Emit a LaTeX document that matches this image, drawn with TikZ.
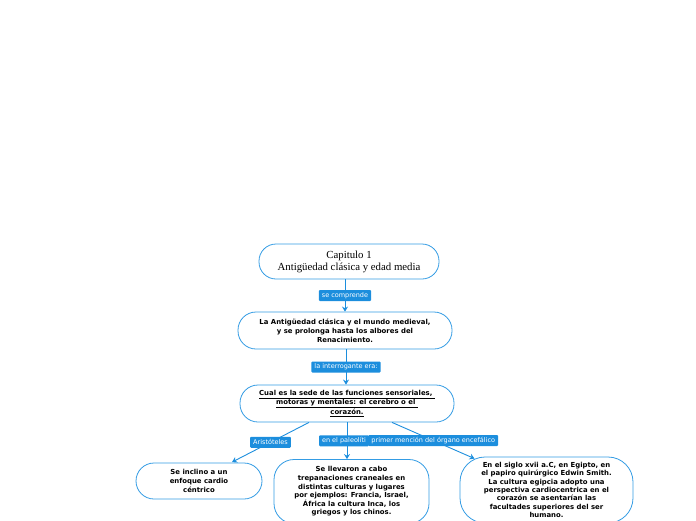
\documentclass[tikz,border=0pt]{standalone}
\usepackage{fontspec}
\setmainfont{DejaVu Sans}
\newfontfamily\lserif{Liberation Serif}
\usetikzlibrary{arrows.meta}
\definecolor{bordblue}{RGB}{52,156,228}
\definecolor{lblblue}{RGB}{28,142,221}
\tikzset{
  box/.style={draw=bordblue, line width=0.8pt, fill=white, align=center, inner sep=2pt,
    font=\fontsize{6.9}{8.6}\selectfont\bfseries},
  lbl/.style={fill=lblblue, text=white, rounded corners=1pt, inner xsep=3pt, inner ysep=0pt,
    minimum height=11pt, font=\fontsize{6.5}{7}\selectfont},
  conn/.style={draw=lblblue, line width=0.9pt, -{Stealth[length=5pt,width=6pt]}}
}
\begin{document}
\begin{tikzpicture}[x=1pt,y=-1pt]
\useasboundingbox (0,0) rectangle (696,520);
\clip (0,0) rectangle (696,520);
\node[box, minimum width=180pt, minimum height=35pt, rounded corners=17pt,
  font=\lserif\fontsize{10.8}{12}\selectfont] (b1) at (349,261.5)
  {Capitulo 1\\Antigüedad clásica y edad media};
\node[box, minimum width=214pt, minimum height=37pt, rounded corners=18pt, font=\fontsize{6.9}{9}\selectfont\bfseries] (b2) at (345,330.5)
  {La Antigüedad clásica y el mundo medieval,\\ y se prolonga hasta los albores del\\Renacimiento.};
\node[box, minimum width=214pt, minimum height=37pt, rounded corners=18pt] (b3) at (347,403.5)
  {\underline{Cual es la sede de las funciones sensoriales,\ }\\\underline{motoras y mentales: el cerebro o el\ }\\\underline{corazón.}};
\node[box, minimum width=126pt, minimum height=36pt, rounded corners=18pt] (b4) at (199,481)
  {Se inclino a un\\enfoque cardio\\céntrico};
\node[box, minimum width=155pt, minimum height=64pt, rounded corners=20pt] (b5) at (351.5,491.5)
  {Se llevaron a cabo\\trepanaciones craneales en\\distintas culturas y lugares\\por ejemplos: Francia, Israel,\\África la cultura Inca, los\\griegos y los chinos.};
\node[box, minimum width=173pt, minimum height=66pt, rounded corners=25pt,
  font=\fontsize{6.9}{8.4}\selectfont\bfseries] (b6) at (546.5,490)
  {En el siglo xvii a.C, en Egipto, en\\el papiro quirúrgico Edwin Smith.\\La cultura egipcia adopto una\\perspectiva cardiocentrica en el\\corazón se asentarían las\\facultades superiores del ser\\humano.};
\draw[conn] (b1.south -| b2.north) -- node[lbl] (l1) {se comprende} (b2.north);
\draw[conn] ([xshift=1pt]b2.south) -- node[lbl] (l2) {la interrogante era:} ([xshift=1pt]b2.south |- b3.north);
\draw[conn] ([xshift=-38pt]b3.south) -- node[lbl, pos=0.5] (l3) {Aristóteles} ([xshift=33pt,yshift=0.5pt]b4.north);
\draw[conn] (b3.south) -- node[lbl, pos=0.5, xshift=-3pt] (l4) {en el paleolíti} (b3.south |- b5.north);
\draw[conn] ([xshift=45pt]b3.south) -- node[lbl, pos=0.5] (l5) {primer mención del órgano encefálico} ([xshift=-72pt,yshift=-2pt]b6.north);
\end{tikzpicture}
\end{document}
